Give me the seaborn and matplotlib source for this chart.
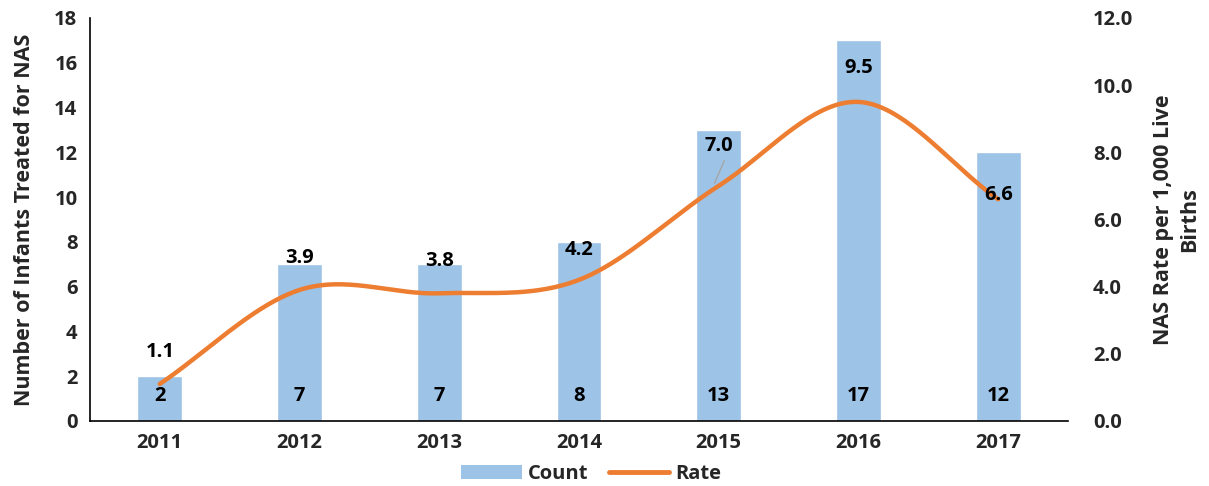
import numpy as np
import pandas as pd
import matplotlib
matplotlib.use("Agg")
import matplotlib.pyplot as plt
import seaborn as sns
from matplotlib.patches import Patch
from matplotlib.lines import Line2D

years = ["2011", "2012", "2013", "2014", "2015", "2016", "2017"]
counts = [2, 7, 7, 8, 13, 17, 12]
rates = [1.1, 3.9, 3.8, 4.2, 7.0, 9.5, 6.6]

BAR = "#9DC3E6"
LINE = "#ED7D31"
FS_TICK = 14.5
FS_LAB = 15.5

sns.set_theme(style="white")
plt.rcParams["font.family"] = ["Open Sans", "DejaVu Sans"]
plt.rcParams["font.weight"] = "bold"

df = pd.DataFrame({"year": years, "count": counts, "rate": rates})

fig = plt.figure(figsize=(12.09, 4.86), dpi=100)
ax = fig.add_axes([0.0744, 0.134, 0.809, 0.829])

sns.barplot(data=df, x="year", y="count", color=BAR, width=0.32,
            saturation=1, ax=ax, zorder=2)
ax.set_ylim(0, 18)
ax.set_yticks(range(0, 19, 2))
ax.set_xlim(-0.5, 6.5)
ax.set_xlabel("")
ax.set_ylabel("Number of Infants Treated for NAS", fontsize=FS_LAB,
              fontweight="bold", labelpad=14)
ax.tick_params(axis="both", labelsize=FS_TICK, length=0, pad=9)
for lab in ax.get_xticklabels() + ax.get_yticklabels():
    lab.set_fontweight("bold")
for s in ["top", "right"]:
    ax.spines[s].set_visible(False)
for s in ["left", "bottom"]:
    ax.spines[s].set_color("black")
    ax.spines[s].set_linewidth(1.2)

# count labels inside the bars, near the base
for i, c in enumerate(counts):
    ax.text(i, 1.1, str(c), ha="center", va="center", fontsize=FS_TICK,
            fontweight="bold", color="black", zorder=5)

ax2 = ax.twinx()
ax2.set_ylim(0, 12)
ax2.set_yticks(np.arange(0, 12.1, 2))
ax2.set_yticklabels([f"{v:.1f}" for v in np.arange(0, 12.1, 2)])
ax2.tick_params(axis="y", labelsize=FS_TICK, length=0, pad=18)
for lab in ax2.get_yticklabels():
    lab.set_fontweight("bold")
for s in ["top", "right", "left", "bottom"]:
    ax2.spines[s].set_visible(False)
ax2.set_ylabel("NAS Rate per 1,000 Live\nBirths", fontsize=FS_LAB,
               fontweight="bold", rotation=90, labelpad=14, linespacing=1.3)

# smoothed rate curve (Catmull-Rom through the yearly points)
x = np.arange(len(rates), dtype=float)
y = np.array(rates, dtype=float)
px = np.concatenate([[2 * x[0] - x[1]], x, [2 * x[-1] - x[-2]]])
py = np.concatenate([[2 * y[0] - y[1]], y, [2 * y[-1] - y[-2]]])
xs, ys = [], []
t = np.linspace(0, 1, 40)
for k in range(1, len(px) - 2):
    p0, p1, p2, p3 = [np.array([px[j], py[j]]) for j in range(k - 1, k + 3)]
    seg = 0.5 * ((2 * p1) + (-p0 + p2) * t[:, None]
                 + (2 * p0 - 5 * p1 + 4 * p2 - p3) * t[:, None] ** 2
                 + (-p0 + 3 * p1 - 3 * p2 + p3) * t[:, None] ** 3)
    xs.append(seg[:, 0])
    ys.append(seg[:, 1])
curve = pd.DataFrame({"x": np.concatenate(xs), "y": np.concatenate(ys)})
sns.lineplot(data=curve, x="x", y="y", color=LINE, lw=3.2, ax=ax2,
             sort=False, solid_capstyle="round", zorder=3)
ax2.set_xlabel("")
ax2.set_xlim(-0.5, 6.5)

# rate labels
offsets = {0: (0, 0.95), 1: (0, 0.95), 2: (0, 0.95), 3: (0, 0.9),
           4: (0, 1.2), 5: (0, 1.0), 6: (0.0, 0.12)}
for i, r in enumerate(rates):
    dx, dy = offsets[i]
    ax2.text(i + dx, r + dy, f"{r:.1f}", ha="center", va="center",
             fontsize=FS_TICK, fontweight="bold", color="black", zorder=6)
# leader line for the 2015 label
ax2.plot([4.04, 3.97], [7.75, 7.08], color="#A6A6A6", lw=1, zorder=4)

handles = [Patch(facecolor=BAR, edgecolor="none", label="Count"),
           Line2D([0], [0], color=LINE, lw=3.5, solid_capstyle="round", label="Rate")]
leg = fig.legend(handles=handles, loc="center", bbox_to_anchor=(0.489, 0.024),
                 ncol=2, frameon=False, fontsize=FS_TICK, handlelength=3.0,
                 columnspacing=1.0, handletextpad=0.3)
for txt in leg.get_texts():
    txt.set_fontweight("bold")

fig.savefig("out.png", dpi=100)
